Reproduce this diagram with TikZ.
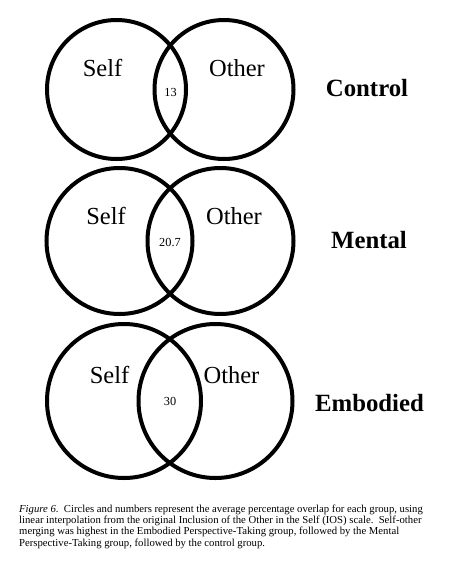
\documentclass[tikz,border=0pt]{standalone}
\usepackage{fontspec}
\setmainfont{Liberation Serif}
\begin{document}
\begin{tikzpicture}[x=1pt,y=-1pt,
  ring/.style={draw=black, line width=4pt, circle, inner sep=0pt, outer sep=0pt, minimum size=#1},
  circlabel/.style={anchor=base, inner sep=0pt, font=\fontsize{24.5}{29}\selectfont},
  numlabel/.style={anchor=base, inner sep=0pt, font=\fontsize{12.3}{14}\selectfont},
  grouplabel/.style={anchor=base, inner sep=0pt, font=\fontsize{24.8}{29}\selectfont\bfseries},
  captext/.style={anchor=north west, inner sep=0pt, align=left, font=\fontsize{10.7}{11.3}\selectfont}]
\useasboundingbox (0,0) rectangle (448,568);
% Control
\node[ring=139pt] (cs) at (116.5,89.5) {};
\node[ring=139pt] (co) at (224,89.5) {};
\node[circlabel] (cself) at (102.5,76) {Self};
\node[circlabel] (cother) at (237,76) {Other};
\node[numlabel] (cnum) at (170.5,96) {13};
\node[grouplabel] (cgrp) at (367,96) {Control};
% Mental
\node[ring=146pt] (ms) at (119.5,241) {};
\node[ring=146pt] (mo) at (220.5,241) {};
\node[circlabel] (mself) at (106,224) {Self};
\node[circlabel] (mother) at (234,224) {Other};
\node[numlabel] (mnum) at (170,246) {20.7};
\node[grouplabel] (mgrp) at (369,248) {Mental};
% Embodied
\node[ring=154pt] (es) at (124,401) {};
\node[ring=154pt] (eo) at (215.5,401) {};
\node[circlabel] (eself) at (109.5,383) {Self};
\node[circlabel] (eother) at (231.5,383) {Other};
\node[numlabel] (enum) at (170,405) {30};
\node[grouplabel] (egrp) at (369.5,411) {Embodied};
% Caption
\node[captext] (cap) at (19,504.6) {\textit{Figure 6}.\ \ Circles and numbers represent the average percentage overlap for each group, using\\
linear interpolation from the original Inclusion of the Other in the Self (IOS) scale.\ \ Self-other\\
merging was highest in the Embodied Perspective-Taking group, followed by the Mental\\
Perspective-Taking group, followed by the control group.};
\end{tikzpicture}
\end{document}
